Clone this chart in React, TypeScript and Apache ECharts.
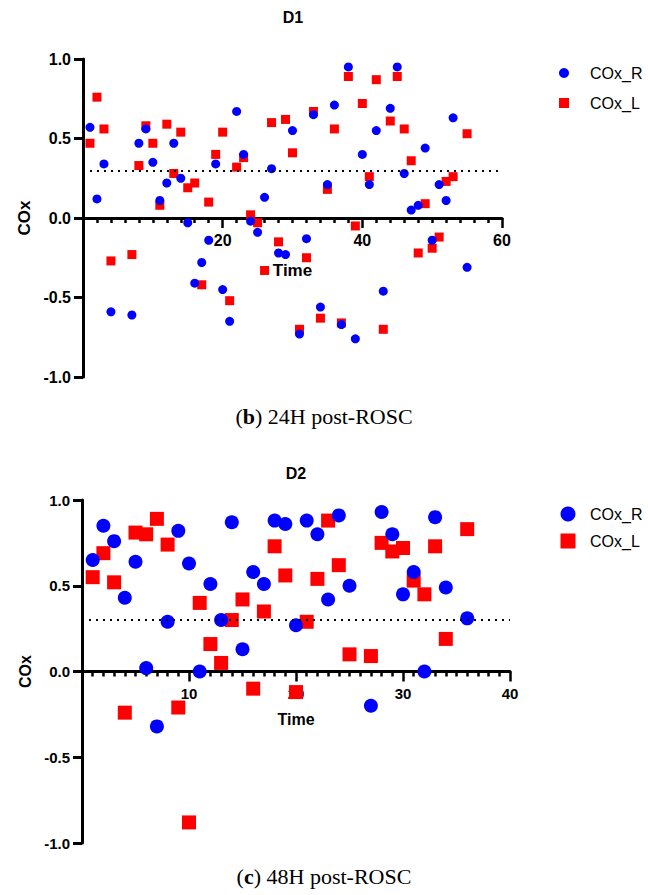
import React, { useEffect, useRef } from "react";
import * as echarts from "echarts";

// ---------- Data ----------
const d1Time = [1, 2, 3, 4, 7, 8, 9, 10, 11, 12, 13, 14, 15, 16, 17, 18, 19, 20, 21, 22, 23, 24, 25, 26, 27, 28, 29, 30, 31, 32, 33, 34, 35, 36, 37, 38, 39, 40, 41, 42, 43, 44, 45, 46, 47, 48, 49, 50, 51, 52, 53, 55];
const d1CoxR = [0.57, 0.12, 0.34, -0.59, -0.61, 0.47, 0.56, 0.35, 0.11, 0.22, 0.47, 0.25, -0.03, -0.41, -0.28, -0.14, 0.34, -0.45, -0.65, 0.67, 0.4, -0.02, -0.09, 0.13, 0.31, -0.22, -0.23, 0.55, -0.73, -0.13, 0.65, -0.56, 0.21, 0.71, -0.67, 0.95, -0.76, 0.4, 0.21, 0.55, -0.46, 0.69, 0.95, 0.28, 0.05, 0.08, 0.44, -0.14, 0.21, 0.11, 0.63, -0.31];
const d1CoxL = [0.47, 0.76, 0.56, -0.27, -0.23, 0.33, 0.58, 0.47, 0.08, 0.59, 0.28, 0.54, 0.19, 0.22, -0.42, 0.1, 0.4, 0.54, -0.52, 0.32, 0.38, 0.02, -0.03, -0.33, 0.6, -0.15, 0.62, 0.41, -0.7, -0.25, 0.67, -0.63, 0.18, 0.56, -0.66, 0.89, -0.05, 0.72, 0.26, 0.87, -0.7, 0.61, 0.89, 0.56, 0.36, -0.22, 0.09, -0.19, -0.12, 0.23, 0.26, 0.53];

const d2Time = [1, 2, 3, 4, 5, 6, 7, 8, 9, 10, 11, 12, 13, 14, 15, 16, 17, 18, 19, 20, 21, 22, 23, 24, 25, 27, 28, 29, 30, 31, 32, 33, 34, 36];
const d2CoxR = [0.65, 0.85, 0.76, 0.43, 0.64, 0.02, -0.32, 0.29, 0.82, 0.63, 0.0, 0.51, 0.3, 0.87, 0.13, 0.58, 0.51, 0.88, 0.86, 0.27, 0.88, 0.8, 0.42, 0.91, 0.5, -0.2, 0.93, 0.8, 0.45, 0.58, 0.0, 0.9, 0.49, 0.31];
const d2CoxL = [0.55, 0.69, 0.52, -0.24, 0.81, 0.8, 0.89, 0.74, -0.21, -0.88, 0.4, 0.16, 0.05, 0.3, 0.42, -0.1, 0.35, 0.73, 0.56, -0.12, 0.29, 0.54, 0.88, 0.62, 0.1, 0.09, 0.75, 0.7, 0.72, 0.53, 0.45, 0.73, 0.19, 0.83];

const threshold = 0.3;
const titles = ["D1", "D2"];
const captions = ["24H post-ROSC", "48H post-ROSC"];
const captionLetters = ["b", "c"];
const seriesNames = ["COx_R", "COx_L"];

// ---------- Styling ----------
const SANS = '"Liberation Sans", Arial, sans-serif';
const SERIF = '"Liberation Serif", "Times New Roman", serif';
const BLUE = "#0000ff";
const RED = "#ff0000";

const pairs = (xs: number[], ys: number[]) => xs.map((x, i) => [x, ys[i]]);

function xAxisCfg(gridIndex: number, max: number, interval: number, offset: number, nameGap: number, fontSize: number, nameSize: number) {
  return {
    gridIndex,
    type: "value",
    position: "bottom",
    offset,
    min: 0,
    max,
    interval,
    name: "Time",
    nameLocation: "middle",
    nameGap,
    nameTextStyle: { fontFamily: SANS, fontWeight: "bold", fontSize: nameSize, color: "#000" },
    axisLine: { show: true, onZero: false, lineStyle: { color: "#000", width: 3 } },
    axisTick: { show: true, length: 10, lineStyle: { color: "#000", width: 2.5 } },
    minorTick: { show: true, splitNumber: 10, length: 5, lineStyle: { color: "#000", width: 2.5 } },
    axisLabel: {
      formatter: (v: number) => (v === 0 ? "" : String(v)),
      margin: 14,
      fontFamily: SANS,
      fontWeight: "bold",
      fontSize,
      color: "#000",
    },
    splitLine: { show: false },
    minorSplitLine: { show: false },
  };
}

function yAxisCfg(gridIndex: number, nameGap: number, fontSize: number, nameSize: number) {
  return {
    gridIndex,
    type: "value",
    min: -1,
    max: 1,
    interval: 0.5,
    name: "COx",
    nameLocation: "middle",
    nameGap,
    nameTextStyle: { fontFamily: SANS, fontWeight: "bold", fontSize: nameSize, color: "#000" },
    axisLine: { show: true, onZero: false, lineStyle: { color: "#000", width: 3 } },
    axisTick: { show: true, length: 9, lineStyle: { color: "#000", width: 3 } },
    axisLabel: {
      formatter: (v: number) => v.toFixed(1),
      margin: 12,
      fontFamily: SANS,
      fontWeight: "bold",
      fontSize,
      color: "#000",
    },
    splitLine: { show: false },
  };
}

function markLineCfg() {
  return {
    silent: true,
    symbol: "none",
    label: { show: false },
    lineStyle: { color: "#000", type: [2, 5], width: 2, opacity: 1 },
    data: [{ yAxis: threshold }],
  };
}

function legendCfg(left: number, top: number, size: number, gap: number, pad: number) {
  return {
    data: [
      { name: seriesNames[0], icon: "circle" },
      { name: seriesNames[1], icon: "rect" },
    ],
    orient: "vertical",
    left,
    top,
    padding: 0,
    itemWidth: size,
    itemHeight: size,
    itemGap: gap,
    selectedMode: false,
    textStyle: { fontFamily: SANS, fontSize: 16, color: "#000", lineHeight: 18, padding: [0, 0, 0, pad] },
  };
}

function captionCfg(y: number, idx: number) {
  return {
    type: "text",
    left: "center",
    top: y,
    style: {
      text: "({bb|" + captionLetters[idx] + "}) " + captions[idx],
      rich: { bb: { fontWeight: "bold", fontFamily: SERIF, fontSize: 22, fill: "#000" } },
      fontFamily: SERIF,
      fontSize: 22,
      fill: "#000",
    },
  };
}

export default function App() {
  const ref = useRef<HTMLDivElement>(null);
  useEffect(() => {
    if (!ref.current) return;
    const chart = echarts.init(ref.current, null, { renderer: "svg" });
    const g1 = { left: 83, top: 59, width: 419, height: 318 };
    const g2 = { left: 82, top: 500, width: 428, height: 343 };
    const option: any = {
      animation: false,
      backgroundColor: "#fff",
      title: [
        { text: titles[0], left: 293, top: 9, textAlign: "center", padding: 0, textStyle: { fontFamily: SANS, fontWeight: "bold", fontSize: 16, color: "#000" } },
        { text: titles[1], left: 296, top: 465, textAlign: "center", padding: 0, textStyle: { fontFamily: SANS, fontWeight: "bold", fontSize: 16, color: "#000" } },
      ],
      legend: [legendCfg(559, 64, 10, 12, 16), legendCfg(560.5, 505, 15, 9, 9.5)],
      grid: [g1, g2],
      xAxis: [
        xAxisCfg(0, 60, 20, -g1.height / 2, 44, 16, 17),
        xAxisCfg(1, 40, 10, -g2.height / 2, 40, 15, 16),
      ],
      yAxis: [yAxisCfg(0, 46, 16, 17), yAxisCfg(1, 46, 15, 16)],
      series: [
        {
          type: "scatter", name: seriesNames[1], xAxisIndex: 0, yAxisIndex: 0, clip: false,
          data: pairs(d1Time, d1CoxL), symbol: "rect", symbolSize: 9, itemStyle: { color: RED, opacity: 1 },
          markLine: markLineCfg(),
        },
        {
          type: "scatter", name: seriesNames[0], xAxisIndex: 0, yAxisIndex: 0, clip: false,
          data: pairs(d1Time, d1CoxR), symbol: "circle", symbolSize: 9, itemStyle: { color: BLUE, opacity: 1 },
        },
        {
          type: "scatter", name: seriesNames[1], xAxisIndex: 1, yAxisIndex: 1, clip: false,
          data: pairs(d2Time, d2CoxL), symbol: "rect", symbolSize: 14, itemStyle: { color: RED, opacity: 1 },
          markLine: markLineCfg(),
        },
        {
          type: "scatter", name: seriesNames[0], xAxisIndex: 1, yAxisIndex: 1, clip: false,
          data: pairs(d2Time, d2CoxR), symbol: "circle", symbolSize: 14, itemStyle: { color: BLUE, opacity: 1 },
        },
      ],
      graphic: [captionCfg(405, 0), captionCfg(865, 1)],
    };
    chart.setOption(option);
    return () => chart.dispose();
  }, []);
  return <div ref={ref} style={{ position: "absolute", left: 0, top: 0, width: 648, height: 895 }} />;
}
